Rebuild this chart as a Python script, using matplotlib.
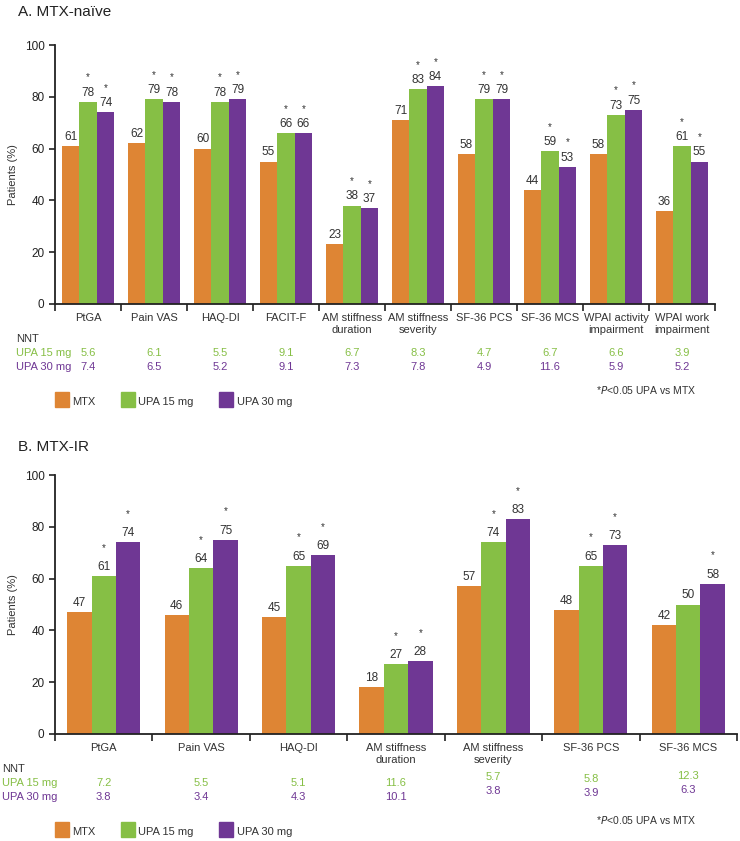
import numpy as np
import matplotlib.pyplot as plt

plt.rcParams['font.family'] = ['Liberation Sans', 'DejaVu Sans']

# panel A: MTX-naive
cats_a = ["PtGA", "Pain VAS", "HAQ-DI", "FACIT-F", "AM stiffness\nduration",
          "AM stiffness\nseverity", "SF-36 PCS", "SF-36 MCS",
          "WPAI activity\nimpairment", "WPAI work\nimpairment"]
mtx_a = [61, 62, 60, 55, 23, 71, 58, 44, 58, 36]
upa15_a = [78, 79, 78, 66, 38, 83, 79, 59, 73, 61]
upa30_a = [74, 78, 79, 66, 37, 84, 79, 53, 75, 55]
sig15_a = [1, 1, 1, 1, 1, 1, 1, 1, 1, 1]
sig30_a = [1, 1, 1, 1, 1, 1, 1, 1, 1, 1]
nnt15_a = ["5.6", "6.1", "5.5", "9.1", "6.7", "8.3", "4.7", "6.7", "6.6", "3.9"]
nnt30_a = ["7.4", "6.5", "5.2", "9.1", "7.3", "7.8", "4.9", "11.6", "5.9", "5.2"]

# panel B: MTX-IR
cats_b = ["PtGA", "Pain VAS", "HAQ-DI", "AM stiffness\nduration",
          "AM stiffness\nseverity", "SF-36 PCS", "SF-36 MCS"]
mtx_b = [47, 46, 45, 18, 57, 48, 42]
upa15_b = [61, 64, 65, 27, 74, 65, 50]
upa30_b = [74, 75, 69, 28, 83, 73, 58]
sig15_b = [1, 1, 1, 1, 1, 1, 0]
sig30_b = [1, 1, 1, 1, 1, 1, 1]
nnt15_b = ["7.2", "5.5", "5.1", "11.6", "5.7", "5.8", "12.3"]
nnt30_b = ["3.8", "3.4", "4.3", "10.1", "3.8", "3.9", "6.3"]
# small vertical nudges of the NNT numbers (pixels) as in the original layout
nnt_shift_b = [0, 0, 0, 0, -6, -4, -7]

c_mtx = "#DE8534"
c_15 = "#86BF45"
c_30 = "#6F3794"
W, H = 740, 841

fig = plt.figure(figsize=(W / 100, H / 100), dpi=100)


def fy(y):
    return 1 - y / H


def panel(title, title_y, left, top, right, bottom, cats, series, sigs, nnt15, nnt30,
          bw, lab_y, nnt_x, nnt_y, shifts, leg_y, p_y, star_off):
    ax = fig.add_axes([left / W, 1 - bottom / H, (right - left) / W, (bottom - top) / H])
    n = len(cats)
    x = np.arange(n) + 0.5
    colors = [c_mtx, c_15, c_30]
    for i, (vals, col) in enumerate(zip(series, colors)):
        xs = x + (i - 1) * bw
        ax.bar(xs, vals, width=bw, color=col, edgecolor='none')
        for j, v in enumerate(vals):
            ax.text(xs[j], v + 1.2, str(v), ha='center', va='bottom', fontsize=8.5, color='#333333')
            if i > 0 and sigs[i - 1][j]:
                ax.text(xs[j], v + star_off, "*", ha='center', va='bottom', fontsize=7, color='#333333')
    ax.set_xlim(0, n)
    ax.set_ylim(0, 100)
    ax.set_yticks([0, 20, 40, 60, 80, 100])
    ax.set_xticks(np.arange(n + 1))
    ax.set_xticklabels([])
    ax.tick_params(axis='both', direction='out', length=4, width=1.2, labelsize=8.5,
                   colors='#222222')
    ax.tick_params(axis='x', length=5)
    ax.set_ylabel("Patients (%)", fontsize=8, color='#333333', labelpad=5)
    for s in ['top', 'right']:
        ax.spines[s].set_visible(False)
    for s in ['left', 'bottom']:
        ax.spines[s].set_linewidth(1.3)
        ax.spines[s].set_color('#222222')

    fig.text(18 / W, fy(title_y), title, fontsize=11, va='center', color='#222222')

    cx = [(left + (right - left) * (k + 0.5) / n) / W for k in range(n)]
    for k, c in enumerate(cats):
        fig.text(cx[k], fy(lab_y - 6), c, ha='center', va='top', fontsize=8,
                 color='#333333', linespacing=1.25)
    fig.text(nnt_x / W, fy(nnt_y), "NNT", fontsize=8, va='center', color='#333333')
    fig.text(nnt_x / W, fy(nnt_y + 14), "UPA 15 mg", fontsize=8, va='center', color=c_15)
    fig.text(nnt_x / W, fy(nnt_y + 28), "UPA 30 mg", fontsize=8, va='center', color=c_30)
    for k in range(n):
        fig.text(cx[k], fy(nnt_y + 14 + shifts[k]), nnt15[k], ha='center', va='center',
                 fontsize=8, color=c_15)
        fig.text(cx[k], fy(nnt_y + 28 + shifts[k]), nnt30[k], ha='center', va='center',
                 fontsize=8, color=c_30)

    fig.text(596 / W, fy(p_y), "*$\\it{P}$<0.05 UPA vs MTX", fontsize=7.5, va='center',
             color='#333333')
    for lx, tx, col, name in [(55, 72, c_mtx, "MTX"), (121, 138, c_15, "UPA 15 mg"),
                              (219, 237, c_30, "UPA 30 mg")]:
        fig.patches.append(plt.Rectangle((lx / W, fy(leg_y + 7)), 14 / W, 15 / H,
                                         transform=fig.transFigure, color=col))
        fig.text(tx / W, fy(leg_y + 2), name, fontsize=8, va='center', color='#333333')
    return ax


panel("A. MTX-naïve", 12, 55, 45, 715, 304, cats_a, [mtx_a, upa15_a, upa30_a],
      [sig15_a, sig30_a], nnt15_a, nnt30_a, 0.265, 319, 16, 339, [0] * len(cats_a),
      400, 390, 7.5)
panel("B. MTX-IR", 447, 55, 475, 737, 734, cats_b, [mtx_b, upa15_b, upa30_b],
      [sig15_b, sig30_b], nnt15_b, nnt30_b, 0.25, 749, 2, 769, nnt_shift_b,
      830, 820, 9)

fig.savefig("out.png", dpi=100)
